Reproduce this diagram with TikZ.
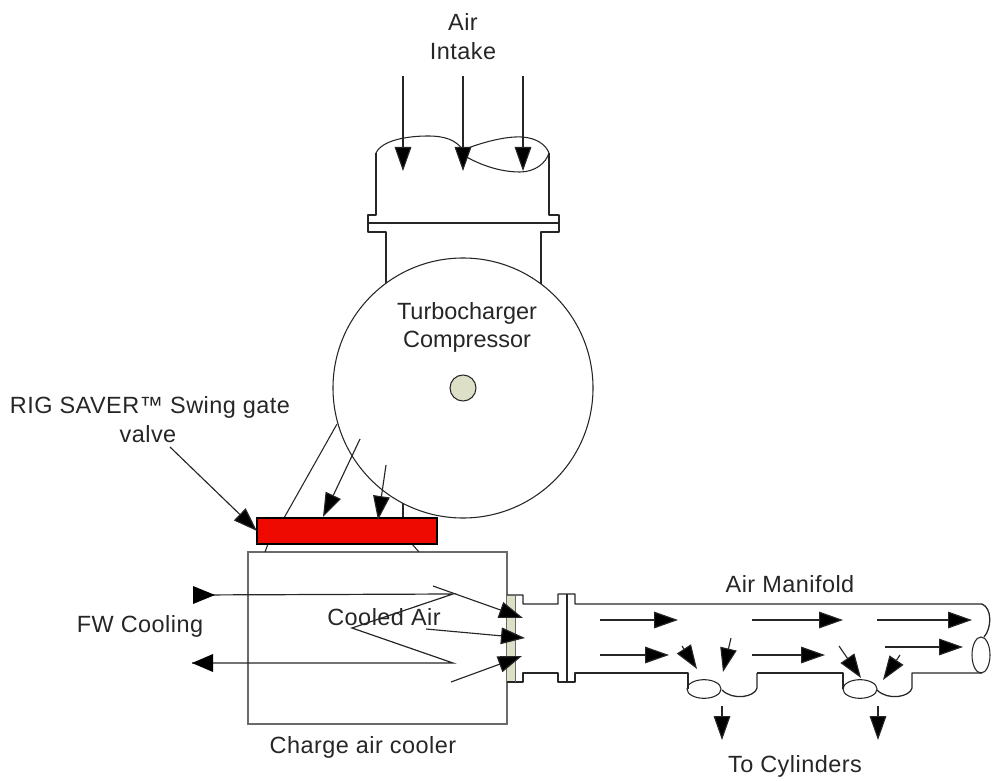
\documentclass[tikz,border=0pt]{standalone}
\usepackage{fontspec}
\setmainfont{Liberation Sans}
\newfontfamily\spacedfont[LetterSpace=2]{Liberation Sans}
\usetikzlibrary{arrows.meta,shapes.geometric}
\definecolor{strip}{HTML}{DDDFC6}
\definecolor{hub}{HTML}{DDDFC6}
\definecolor{valvered}{HTML}{EE0A00}
\definecolor{boxgrey}{HTML}{6A6A6A}
\tikzset{
  px/.style={x=0.75pt,y=-0.75pt},
  pipe/.style={draw=black!85,line width=0.95pt,line join=round},
  thin line/.style={draw=black!85,line width=0.8pt},
  flow/.style={draw=black!85,line width=0.85pt,-{Triangle[length=18pt,width=12.5pt,fill=black]}},
  lab/.style={font=\spacedfont\fontsize{17.6pt}{20pt}\selectfont,text=black!85,inner sep=0pt,anchor=base},
  labtight/.style={font=\rmfamily\fontsize{17.6pt}{20pt}\selectfont,text=black!85,inner sep=0pt,anchor=base}
}
\begin{document}
\begin{tikzpicture}[px]
\useasboundingbox (0,0) rectangle (996,781);
% intake
\draw[pipe] (376,153) -- (376,215) -- (368,215) -- (368,232) -- (386,232) -- (386,285);
\draw[pipe] (549,153) -- (549,215) -- (559,215) -- (559,232) -- (541,232) -- (541,285);
\draw[pipe] (368,223) -- (559,223);
\draw[thin line] (376,153) .. controls (382,140) and (408,136) .. (428,136) .. controls (445,136) and (456,140) .. (463,150);
\draw[thin line] (463,150) .. controls (480,143) and (505,136) .. (522,137) .. controls (537,138) and (546,145) .. (549,153);
\draw[thin line] (463,155) .. controls (480,165) and (500,172) .. (520,172) .. controls (535,172) and (546,163) .. (549,153);
% compressor
\node[circle,draw=black!85,fill=white,line width=0.8pt,minimum size=195pt,inner sep=0pt] (comp) at (463,388) {};
\node[circle,draw=black!85,fill=hub,line width=0.8pt,minimum size=19.5pt,inner sep=0pt] (hub) at (463,388) {};
% cooler
\node[rectangle,draw=boxgrey,line width=1.2pt,minimum width=194pt,minimum height=129pt,inner sep=0pt] (cooler) at (377.5,638) {};
% stubs and duct
\draw[thin line] (337,424) -- (284,518);
\draw[thin line] (403,503) -- (403,518);
\draw[thin line] (268,544) -- (265,552);
\draw[thin line] (412,544) -- (419,552);
% valve
\node[rectangle,draw=black,fill=valvered,line width=1pt,minimum width=135pt,minimum height=19.5pt,inner sep=0pt] (valve) at (347,531) {};
\coordinate (gatefrom) at (170,447);
\draw[flow] (gatefrom) -- (257,531);
\draw[flow] (360,439) -- (323,517);
\draw[flow] (386,465) -- (378,520);
% intake arrows
\draw[flow] (403,76) -- (403,171);
\draw[flow] (463,76) -- (463,171);
\draw[flow] (523,76) -- (523,171);
% manifold
\fill[strip] (507,595) rectangle (515,682);
\draw[pipe] (507,595) -- (523,595) -- (523,604) -- (558,604) -- (558,594) -- (575,594) -- (575,604) -- (982,604)
  .. controls (992,608) and (992,628) .. (984,637);
\draw[pipe] (507,682) -- (523,682) -- (523,673) -- (558,673) -- (558,682) -- (575,682) -- (575,673) -- (688,673) -- (688,689);
\draw[pipe] (567,594) -- (567,682);
\draw[draw=boxgrey,line width=0.7pt] (515,595) -- (515,682);
\draw[pipe] (757,673) -- (843,673) -- (843,689);
\draw[pipe] (757,673) -- (757,688) .. controls (755,697) and (733,701) .. (722,690);
\draw[pipe] (982,673) -- (912,673) -- (912,688) .. controls (910,697) and (888,701) .. (877,690);
\node[ellipse,draw=black!85,line width=0.8pt,minimum width=25.5pt,minimum height=14pt,inner sep=0pt] (port1) at (704,689) {};
\node[ellipse,draw=black!85,line width=0.8pt,minimum width=25.5pt,minimum height=14pt,inner sep=0pt] (port2) at (860,689) {};
\node[ellipse,draw=black!85,line width=0.8pt,minimum width=13.5pt,minimum height=27pt,inner sep=0pt] (pipeend) at (981,655) {};
% FW lines
\draw[draw=black!85,line width=0.9pt] (193,595) -- (453,594) -- (352,628) -- (453,663) -- (192,663);
\fill[black] (193,586) -- (215,595) -- (193,604) -- cycle;
\fill[black] (192,663) -- (213,654) -- (213,672) -- cycle;
% cooler outlet arrows
\draw[flow] (433,586) -- (523,618);
\draw[flow] (426,629) -- (525,638);
\draw[flow] (451,682) -- (522,656);
% manifold arrows
\draw[flow] (600,620) -- (678,620);
\draw[flow] (600,655) -- (669,655);
\draw[flow] (682,646) -- (697,669);
\draw[flow] (731,638) -- (723,672);
\draw[flow] (752,620) -- (843,620);
\draw[flow] (752,655) -- (825,655);
\draw[flow] (839,646) -- (861,678);
\draw[flow] (900,655) -- (883,680);
\draw[flow] (877,620) -- (972,620);
\draw[flow] (885,647) -- (963,647);
\draw[flow] (722,706) -- (722,740);
\draw[flow] (878,706) -- (878,740);
% labels
\node[lab] (air) at (463,31) {Air};
\node[lab] (intake) at (463,60) {Intake};
\node[labtight] (turbo) at (467,319) {Turbocharger};
\node[labtight] (compr) at (467,347) {Compressor};
\node[lab] (rig) at (150,413) {RIG SAVER™ Swing gate};
\node[lab] (valvetxt) at (148,442) {valve};
\node[lab] (fw) at (140,632) {FW Cooling};
\node[lab] (cooled) at (384,625) {Cooled Air};
\node[lab] (charge) at (363,753) {Charge air cooler};
\node[lab] (manifold) at (790,592) {Air Manifold};
\node[lab] (cyl) at (795,772) {To Cylinders};
\end{tikzpicture}
\end{document}
